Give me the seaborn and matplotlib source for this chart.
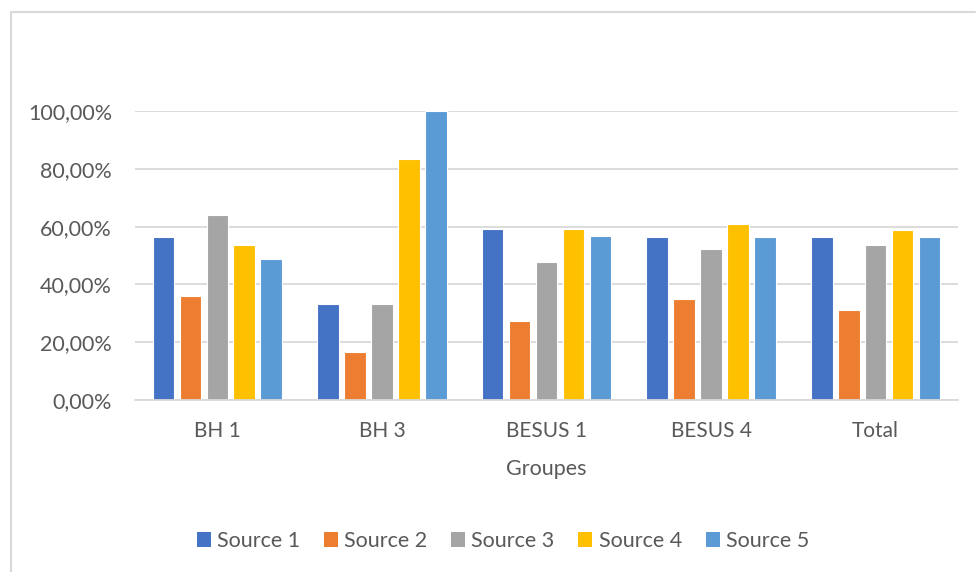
import matplotlib
matplotlib.use("Agg")
import matplotlib.pyplot as plt
import seaborn as sns
import pandas as pd
from matplotlib.ticker import FuncFormatter
from matplotlib.lines import Line2D
from matplotlib.patches import Patch

groups = ["BH 1", "BH 3", "BESUS 1", "BESUS 4", "Total"]
sources = ["Source 1", "Source 2", "Source 3", "Source 4", "Source 5"]
source1 = [0.564, 0.3333, 0.592, 0.564, 0.563]
source2 = [0.359, 0.1667, 0.273, 0.348, 0.313]
source3 = [0.640, 0.3333, 0.476, 0.521, 0.535]
source4 = [0.537, 0.8333, 0.592, 0.609, 0.588]
source5 = [0.487, 1.0, 0.567, 0.564, 0.563]
colors = ["#4472C4", "#ED7D31", "#A5A5A5", "#FFC000", "#5B9BD5"]
yticks = [0, 0.2, 0.4, 0.6, 0.8, 1.0]

rows = []
for s, vals in zip(sources, [source1, source2, source3, source4, source5]):
    for g, v in zip(groups, vals):
        rows.append({"Groupes": g, "Source": s, "Valeur": v})
df = pd.DataFrame(rows)

sns.set_theme(style="white")
plt.rcParams["font.family"] = ["Lato", "DejaVu Sans"]
text_color = "#595959"
grid_color = "#D9D9D9"

fig = plt.figure(figsize=(9.76, 5.72), dpi=100)
ax = fig.add_axes([135/976, 1-400/572, (958-135)/976, (400-111)/572])

sns.barplot(data=df, x="Groupes", y="Valeur", hue="Source", order=groups,
            hue_order=sources, palette=colors, saturation=1, width=0.82, gap=0.2,
            edgecolor="white", linewidth=0.8, legend=False, ax=ax, zorder=3)

ax.set_ylim(0, 1.0)
ax.set_yticks(yticks)
ax.yaxis.set_major_formatter(FuncFormatter(lambda v, p: f"{v*100:.2f}%".replace(".", ",")))
ax.grid(axis="y", color=grid_color, linewidth=1.3, zorder=0)
ax.set_axisbelow(True)
for side in ["top", "right", "left"]:
    ax.spines[side].set_visible(False)
ax.spines["bottom"].set_color(grid_color)
ax.spines["bottom"].set_linewidth(1.3)
ax.spines["bottom"].set_zorder(4)
ax.tick_params(axis="both", length=0, colors=text_color)
ax.tick_params(axis="y", pad=16.5, labelsize=15.5)
ax.tick_params(axis="x", pad=15, labelsize=15)
ax.set_ylabel("")
ax.set_xlabel("Groupes", fontsize=15.5, color=text_color, labelpad=13)
ax.set_xlim(-0.5, 4.5)

handles = [Patch(facecolor=c, edgecolor="none") for c in colors]
leg = fig.legend(handles, sources, loc="center", ncol=5,
                 bbox_to_anchor=(503/976, 1-541/572), frameon=False,
                 fontsize=15.5, handlelength=0.65, handleheight=0.65,
                 handletextpad=0.3, columnspacing=1.1)
for t in leg.get_texts():
    t.set_color(text_color)

# chart frame (left and top borders)
fig.add_artist(Line2D([11/976, 11/976], [0, 1-12/572], transform=fig.transFigure,
                      color=grid_color, linewidth=1.5))
fig.add_artist(Line2D([11/976, 975/976], [1-12/572, 1-12/572], transform=fig.transFigure,
                      color=grid_color, linewidth=1.5))

fig.savefig("out.png", dpi=100)
